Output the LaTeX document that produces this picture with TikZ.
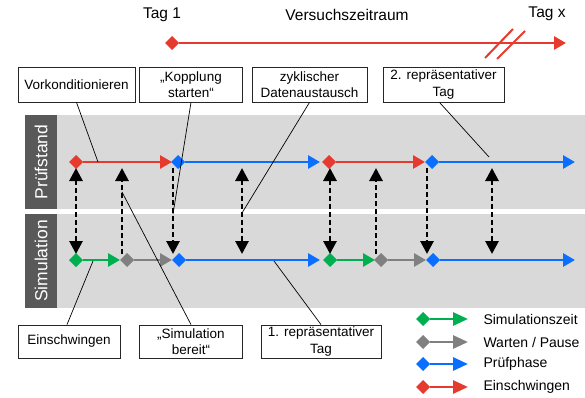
\documentclass[tikz,border=0pt]{standalone}
\usepackage{fontspec}
\setmainfont{Liberation Sans}
\usetikzlibrary{arrows.meta,shapes.geometric}
\definecolor{pred}{HTML}{E63A2E}
\definecolor{pblue}{HTML}{0A6EFF}
\definecolor{pgreen}{HTML}{00B050}
\definecolor{pgray}{HTML}{808080}
\definecolor{bandc}{HTML}{D9D9D9}
\definecolor{stripc}{HTML}{595959}
\begin{document}
\begin{tikzpicture}[x=1pt,y=-1pt,
  dia/.style={diamond, fill=#1, inner sep=0pt, outer sep=0pt, minimum width=14pt, minimum height=14pt},
  phase/.style={line width=2.8pt, draw=#1, -{Triangle[length=12pt,width=13pt]}},
  legphase/.style={line width=2.8pt, draw=#1, -{Triangle[length=15pt,width=13pt]}},
  sync/.style={line width=2.8pt, dash pattern=on 5pt off 3pt, black, >={Triangle[length=13pt,width=13pt]}},
  callout/.style={line width=0.7pt, black},
  lbl/.style={draw=black!85, line width=0.8pt, fill=white, align=center, font=\fontsize{13.5}{16.5}\selectfont, inner sep=0pt, minimum height=35pt},
  band/.style={fill=bandc, draw=none},
  strip/.style={fill=stripc, draw=none},
  striptext/.style={rotate=90, text=white, font=\fontsize{17.5}{20}\selectfont},
  toptext/.style={font=\fontsize{15.5}{18}\selectfont},
  legtext/.style={anchor=west, font=\fontsize{14}{16}\selectfont}]
\useasboundingbox (0,0) rectangle (585,398);

% top timeline
\node[toptext] (tag1) at (162,15) {Tag 1};
\node[toptext] (vz) at (347,15) {Versuchszeitraum};
\node[toptext] (tagx) at (547,14) {Tag x};
\node[dia=pred] (td) at (172,43) {};
\coordinate (te) at (566,43);
\draw[phase=pred] (td.east) -- (te);
\coordinate (s1a) at (485,58); \coordinate (s1b) at (513,29);
\coordinate (s2a) at (497,59); \coordinate (s2b) at (525,31);
\draw[pred, line width=2pt] (s1a) -- (s1b);
\draw[pred, line width=2pt] (s2a) -- (s2b);

% bands
\fill[band] (25,115) rectangle (585,209);
\fill[strip] (25,115) rectangle (57,209);
\fill[band] (25,214) rectangle (585,308);
\fill[strip] (25,214) rectangle (57,308);
\node[striptext] (pst) at (41,162) {Prüfstand};
\node[striptext] (sim) at (41,261) {Simulation};

% Pruefstand line
\coordinate (pe1) at (172,162);
\coordinate (pe2) at (320,162);
\coordinate (pe3) at (425,162);
\coordinate (pe4) at (575,162);
\node[dia=pred] (pd1) at (76,162) {};
\node[dia=pblue] (pd2) at (178,162) {};
\node[dia=pred] (pd3) at (329,162) {};
\node[dia=pblue] (pd4) at (432,162) {};
\draw[phase=pred] (pd1.east) -- (pe1);
\draw[phase=pblue] (pd2.east) -- (pe2);
\draw[phase=pred] (pd3.east) -- (pe3);
\draw[phase=pblue] (pd4.east) -- (pe4);

% Simulation line
\coordinate (se1) at (120,260);
\coordinate (se2) at (172,260);
\coordinate (se3) at (320,260);
\coordinate (se4) at (375,260);
\coordinate (se5) at (426,260);
\coordinate (se6) at (575,260);
\node[dia=pgreen] (sd1) at (76,260) {};
\node[dia=pgray] (sd2) at (127,260) {};
\node[dia=pblue] (sd3) at (179,260) {};
\node[dia=pgreen] (sd4) at (330,260) {};
\node[dia=pgray] (sd5) at (381,260) {};
\node[dia=pblue] (sd6) at (433,260) {};
\draw[phase=pgreen] (sd1.east) -- (se1);
\draw[phase=pgray] (sd2.east) -- (se2);
\draw[phase=pblue] (sd3.east) -- (se3);
\draw[phase=pgreen] (sd4.east) -- (se4);
\draw[phase=pgray] (sd5.east) -- (se5);
\draw[phase=pblue] (sd6.east) -- (se6);

% sync arrows
\foreach \n/\x in {a/76,b/122,c/173,d/242,e/330,f/376,g/427,h/492}{
  \coordinate (u\n) at (\x,168);
  \coordinate (l\n) at (\x,254);
}
\draw[sync,<->] (ua) -- (la);
\draw[sync,->] (lb) -- (ub);
\draw[sync,->] (uc) -- (lc);
\draw[sync,<->] (ud) -- (ld);
\draw[sync,<->] (ue) -- (le);
\draw[sync,->] (lf) -- (uf);
\draw[sync,->] (ug) -- (lg);
\draw[sync,<->] (uh) -- (lh);

% label boxes
\node[lbl, minimum width=117pt] (vk) at (76.5,84.5) {Vorkonditionieren};
\node[lbl, minimum width=103pt] (kop) at (191,84.5) {„Kopplung\\starten“};
\node[lbl, minimum width=115pt] (zyk) at (309.5,84.5) {zyklischer\\Datenaustausch};
\node[lbl, minimum width=121pt] (rep2) at (443.5,84.5) {2. repräsentativer\\Tag};
\node[lbl, minimum width=102pt, minimum height=33pt] (ein) at (69,341.5) {Einschwingen};
\node[lbl, minimum width=103pt, minimum height=33pt] (sb) at (191,341.5) {„Simulation\\bereit“};
\node[lbl, minimum width=120pt, minimum height=33pt] (rep1) at (321,341.5) {1. repräsentativer\\Tag};

% callouts
\coordinate (cvk) at (98,162);
\coordinate (ckop) at (173,214);
\coordinate (czyk) at (242,213);
\coordinate (crep2) at (489,157);
\coordinate (cein) at (93,261);
\coordinate (csb) at (122,192);
\coordinate (crep1) at (274,261);
\draw[callout] (vk.south) -- (cvk);
\draw[callout] (kop.south) -- (ckop);
\draw[callout] (zyk.south) -- (czyk);
\draw[callout] ([xshift=-4pt]rep2.south) -- (crep2);
\draw[callout] ([xshift=-2pt]ein.north) -- (cein);
\draw[callout] (sb.north) -- (csb);
\draw[callout] (rep1.north) -- (crep1);

% legend
\foreach \n/\y/\c/\t in {1/319/pgreen/Simulationszeit,2/342/pgray/{Warten / Pause},3/364/pblue/Prüfphase,4/387/pred/Einschwingen}{
  \node[dia=\c] (ld\n) at (423,\y) {};
  \coordinate (le\n) at (468,\y);
  \draw[legphase=\c] (ld\n.east) -- (le\n);
  \node[legtext] (lt\n) at (480,\y) {\t};
}
\end{tikzpicture}
\end{document}
